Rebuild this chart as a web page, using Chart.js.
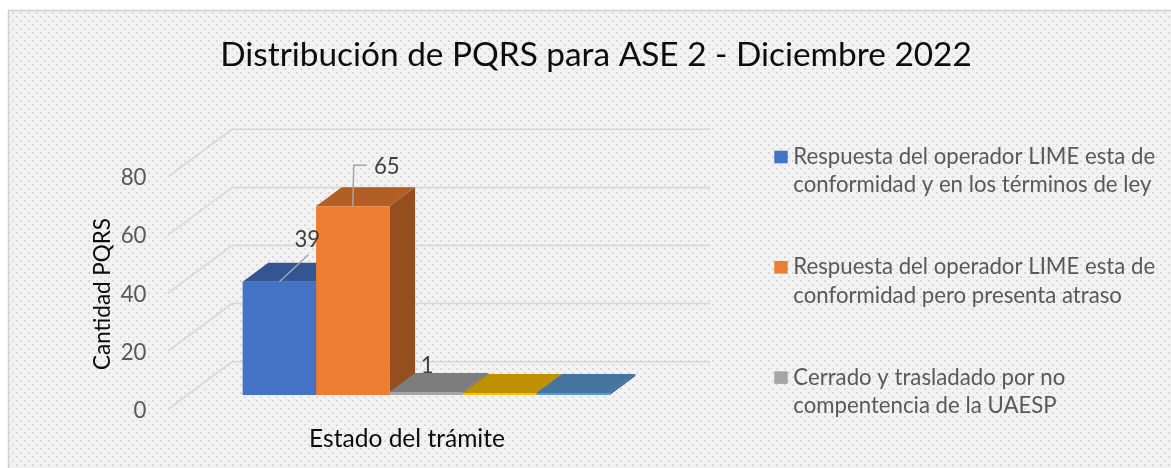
<!DOCTYPE html>
<html>
<head>
<meta charset="utf-8">
<script src="https://cdn.jsdelivr.net/npm/chart.js@4.4.0/dist/chart.umd.min.js"></script>
<style>
  html, body { margin: 0; padding: 0; background: #fff; }
  #wrap { width: 1171px; height: 468px; position: relative; }
</style>
</head>
<body>
<div id="wrap"><canvas id="grafico" width="1171" height="468"></canvas></div>
<script>
// datos
var titulo = "Distribución de PQRS para ASE 2 - Diciembre 2022";
var categorias = [""];
var series = [
  ["Respuesta del operador LIME esta de", "conformidad y en los términos de ley"],
  ["Respuesta del operador LIME esta de", "conformidad pero presenta atraso"],
  ["Cerrado y trasladado por no", "compentencia de la UAESP"],
  ["Serie 4"],
  ["Serie 5"]
];
var valores = [39, 65, 1, 0, 0];
var colores = ["#4472C4", "#ED7D31", "#A5A5A5", "#FFC000", "#5B9BD5"];
var ticksY = [0, 20, 40, 60, 80];
var tituloY = "Cantidad PQRS";
var tituloX = "Estado del trámite";

var W = 1171, H = 468;
var FUENTE = "Lato, 'Open Sans', sans-serif";
// profundidad 3D (pared del fondo respecto al frente)
var DX = 64, DY = -47.6, FRENTE = 0.3, FONDO = 0.4;
// etiquetas: desplazamiento respecto a la cara superior y tipo de guia
var etiquetas = [
  { dx: 28, dy: -35, guia: "diag" },
  { dx: 34, dy: -32, guia: "codo" },
  { dx: 1, dy: -19, guia: null },
  null,
  null
];

function ajustar(ctx, texto, ancho) {
  ctx.font = "100px " + FUENTE;
  return 100 * ancho / ctx.measureText(texto).width;
}
function oscurecer(hex, f) {
  var n = parseInt(hex.slice(1), 16);
  var r = Math.round(((n >> 16) & 255) * f), g = Math.round(((n >> 8) & 255) * f), b = Math.round((n & 255) * f);
  return "rgb(" + r + "," + g + "," + b + ")";
}

var patron = document.createElement("canvas");
patron.width = 8; patron.height = 8;
(function () {
  var p = patron.getContext("2d");
  p.fillStyle = "#f2f2f2"; p.fillRect(0, 0, 8, 8);
  p.fillStyle = "#d9d9d9";
  p.fillRect(0, 0, 2, 2);
  p.fillRect(4, 4, 2, 2);
})();

var escena = {
  id: "escena",
  beforeDraw: function (chart) {
    var ctx = chart.ctx;
    ctx.save();
    ctx.fillStyle = "#fff";
    ctx.fillRect(0, 0, W, H);
    ctx.fillStyle = ctx.createPattern(patron, "repeat");
    ctx.fillRect(8, 10, W, H);
    ctx.strokeStyle = "#d0d0d0";
    ctx.lineWidth = 1.5;
    ctx.beginPath();
    ctx.moveTo(8.5, H + 2); ctx.lineTo(8.5, 10.5); ctx.lineTo(W + 2, 10.5);
    ctx.stroke();
    ctx.restore();
  },
  beforeDatasetsDraw: function (chart) {
    var ctx = chart.ctx, a = chart.chartArea, y = chart.scales.y;
    var tam = ajustar(ctx, "Respuesta del operador LIME esta de", 362);
    ctx.save();
    // paredes: lineas de division
    ticksY.forEach(function (v) {
      var py = y.getPixelForValue(v);
      var fx = a.left - FRENTE * DX, fy = py - FRENTE * DY;
      var bx = a.left + (1 - FRENTE) * DX, by = py + (1 - FRENTE) * DY;
      ctx.strokeStyle = "#d6d6d6";
      ctx.lineWidth = 1.5;
      ctx.beginPath();
      ctx.moveTo(fx, fy); ctx.lineTo(bx, by);
      ctx.lineTo(a.right + (1 - FRENTE) * DX, by);
      ctx.stroke();
      ctx.fillStyle = "#595959";
      ctx.font = tam + "px " + FUENTE;
      ctx.textAlign = "right";
      ctx.textBaseline = "alphabetic";
      ctx.fillText(String(v), fx - 21.5, fy + 8.5);
    });
    // caras superior y lateral de cada barra
    var ddx = FONDO * DX, ddy = FONDO * DY;
    chart.data.datasets.forEach(function (ds, i) {
      var b = chart.getDatasetMeta(i).data[0];
      if (!b) return;
      var p = b.getProps(["x", "y", "base", "width"], true);
      var l = p.x - p.width / 2, r = p.x + p.width / 2;
      ctx.fillStyle = oscurecer(ds.backgroundColor, 0.63);
      ctx.beginPath();
      ctx.moveTo(r, p.y); ctx.lineTo(r + ddx, p.y + ddy);
      ctx.lineTo(r + ddx, p.base + ddy); ctx.lineTo(r, p.base);
      ctx.closePath(); ctx.fill();
      ctx.fillStyle = oscurecer(ds.backgroundColor, 0.75);
      ctx.beginPath();
      ctx.moveTo(l, p.y); ctx.lineTo(r, p.y);
      ctx.lineTo(r + ddx, p.y + ddy); ctx.lineTo(l + ddx, p.y + ddy);
      ctx.closePath(); ctx.fill();
    });
    ctx.restore();
  },
  afterDatasetsDraw: function (chart) {
    var ctx = chart.ctx;
    var tam = ajustar(ctx, "Respuesta del operador LIME esta de", 362);
    ctx.save();
    chart.data.datasets.forEach(function (ds, i) {
      var e = etiquetas[i];
      if (!e) return;
      var p = chart.getDatasetMeta(i).data[0].getProps(["x", "y"], true);
      ctx.strokeStyle = "#a6a6a6";
      ctx.lineWidth = 1.5;
      if (e.guia === "diag") {
        ctx.beginPath(); ctx.moveTo(p.x, p.y); ctx.lineTo(p.x + 29, p.y - 27); ctx.stroke();
      } else if (e.guia === "codo") {
        ctx.beginPath(); ctx.moveTo(p.x, p.y); ctx.lineTo(p.x + 1, p.y - 41); ctx.lineTo(p.x + 14, p.y - 41); ctx.stroke();
      }
      ctx.fillStyle = "#404040";
      ctx.font = tam + "px " + FUENTE;
      ctx.textAlign = "center";
      ctx.textBaseline = "alphabetic";
      ctx.fillText(String(ds.data[0]), p.x + e.dx, p.y + e.dy);
    });
    ctx.restore();
  },
  afterDraw: function (chart) {
    var ctx = chart.ctx;
    ctx.save();
    ctx.textBaseline = "alphabetic";
    // titulo
    ctx.fillStyle = "#0d0d0d";
    ctx.textAlign = "center";
    ctx.font = ajustar(ctx, titulo, 752) + "px " + FUENTE;
    ctx.fillText(titulo, 596, 66);
    // titulos de ejes
    ctx.font = ajustar(ctx, tituloX, 196) + "px " + FUENTE;
    ctx.fillText(tituloX, 407, 446.5);
    ctx.save();
    ctx.translate(109.5, 294);
    ctx.rotate(-Math.PI / 2);
    ctx.font = ajustar(ctx, tituloY, 152) + "px " + FUENTE;
    ctx.fillText(tituloY, 0, 0);
    ctx.restore();
    // leyenda
    var tam = ajustar(ctx, "Respuesta del operador LIME esta de", 362);
    ctx.font = tam + "px " + FUENTE;
    ctx.textAlign = "left";
    series.forEach(function (lineas, i) {
      var y0 = 164 + i * 110.3;
      ctx.fillStyle = colores[i];
      ctx.fillRect(774.3, y0 - 13.3, 13.4, 12.6);
      ctx.fillStyle = "#595959";
      lineas.forEach(function (t, k) {
        ctx.fillText(t, 793.3, y0 + k * 28.4);
      });
    });
    ctx.restore();
  }
};

var conjuntos = valores.map(function (v, i) {
  return {
    label: series[i].join(" "),
    data: [v],
    backgroundColor: colores[i],
    borderWidth: 0,
    minBarLength: 2,
    categoryPercentage: 0.768,
    barPercentage: 1
  };
});

new Chart(document.getElementById("grafico"), {
  type: "bar",
  data: { labels: categorias, datasets: conjuntos },
  options: {
    responsive: false,
    animation: false,
    layout: { padding: { left: 187.2, right: W - 665.2, top: 162.6, bottom: H - 395 } },
    plugins: { legend: { display: false }, title: { display: false }, tooltip: { enabled: false } },
    scales: {
      x: { display: false },
      y: { display: false, min: 0, max: 80 }
    }
  },
  plugins: [escena]
});
</script>
</body>
</html>
